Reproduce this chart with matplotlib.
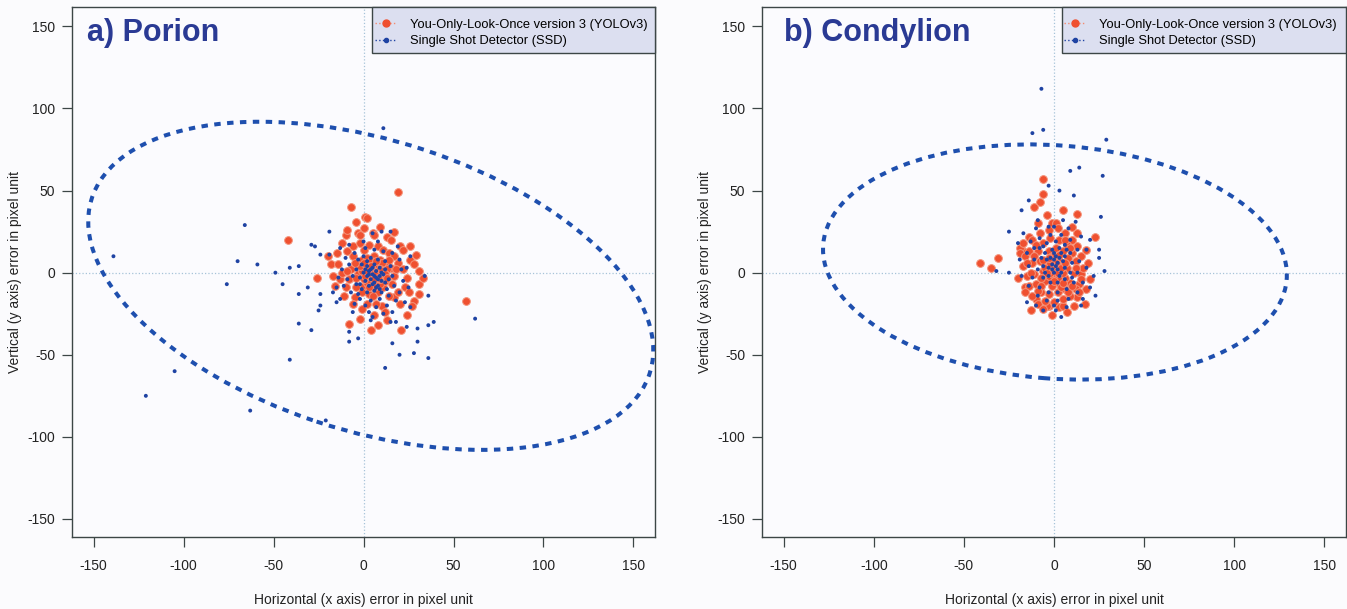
import matplotlib
matplotlib.use('Agg')
import matplotlib.pyplot as plt
from matplotlib.patches import Ellipse, Rectangle
from matplotlib.lines import Line2D

plt.rcParams['font.family'] = ['Liberation Sans', 'DejaVu Sans']

# ---------------- data (pixel errors) ----------------
panel_titles = ["a) Porion", "b) Condylion"]
series_labels = ["You-Only-Look-Once version 3 (YOLOv3)", "Single Shot Detector (SSD)"]
tick_values = [-150, -100, -50, 0, 50, 100, 150]
x_label = "Horizontal (x axis) error in pixel unit"
y_label = "Vertical (y axis) error in pixel unit"

porion_yolo = [
    (19, 49), (-7, 40), (-4, 31), (1, 34), (2, 33), (-42, 20), (57, -17), (-8, -31), (4, -35), (21, -35), (-26, -3),
    (-10, 23), (-12, 18), (-3, 24), (-2, 23), (5, 24), (6, 23), (13, 22), (15, 20), (20, 16), (22, 14), (26, 8),
    (28, 5), (31, 1), (31, -7), (31, -13), (28, -17), (20, -19), (17, -15), (10, -20), (7, -19), (2, -19), (-5, -15),
    (-10, -9), (-13, -4), (-17, -2), (-18, 5), (-14, 5), (-9, 13), (-6, 10), (-1, 8),
    (-15, 12), (-12, 0), (-8, -4), (-6, 16), (-2, 18), (0, 14), (3, 17), (8, 16), (11, 14), (14, 12), (17, 10),
    (19, 6), (22, 2), (24, -3), (23, -9), (25, -12), (19, -12), (14, -14), (12, -24), (6, -26), (-1, -22), (-4, -9),
    (-7, 2), (-3, -1), (0, 3), (2, 9), (6, 10), (9, 8), (12, 6), (15, 3), (17, -2), (16, -7), (11, -9), (8, -12),
    (3, -13), (0, -8),
    (2, 2), (3, -1), (4, 1), (5, 3), (6, 0), (7, -2), (8, 2), (9, 0), (10, -3), (5, -4), (4, -6), (3, 4), (6, 5),
    (8, 5), (10, 3), (11, 0), (12, -5), (7, -6), (2, -3), (1, 0), (6, -9), (9, -7), (4, 7), (1, 5), (-1, 1), (13, 2),
    (6, 2), (8, -1), (5, -1), (3, -3), (7, 3), (9, -4), (11, -2), (4, -2), (2, -6), (10, 6),
    (0, -4), (1, -2), (3, 0), (5, 1), (7, 0), (8, -3), (9, 2), (6, -4), (4, 4), (2, 1), (10, 1), (12, -1), (-2, 4),
    (0, 6), (-4, -3), (7, 7), (13, -3), (3, -9), (-1, -12), (5, -14), (14, 8), (-5, 6), (18, 2), (-9, 1),
    (-16, -8), (-11, -14), (-6, -19), (27, -20), (24, -26), (13, -29), (-9, 26), (0, 27), (9, 28), (17, 25),
    (-20, 10), (29, 11), (33, -3), (-2, -28), (8, -32), (26, 16),
]

porion_ssd = [
    (-139, 10), (-70, 7), (-59, 5), (-49, 0), (-41, 3), (-36, 4), (-76, -7), (-45, -7), (-36, -13), (-24, -13),
    (-25, -23), (-36, -31), (-29, -35), (-41, -53), (-105, -60), (-121, -75), (-63, -84), (-21, -90), (-8, -42),
    (-8, -36), (-3, -40), (12, -58), (20, -50), (28, -49), (30, -42), (36, -52), (36, -32), (39, -30), (62, -28),
    (16, -43), (24, -33), (15, -30), (18, -30), (5, -27), (30, -34), (-24, -20), (11, 88), (-66, 29), (-19, 25),
    (-29, 17), (-27, 16), (10, 25), (15, 25), (5, 24), (-31, -9), (-24, 11), (-19, 11), (-13, -16), (-17, -12),
    (-15, -9), (34, -2), (36, -14), (26, -21),
    (0, 0), (2, -2), (4, -4), (5, -1), (6, -6), (7, -3), (8, -8), (9, -2), (10, -5), (3, -8), (1, -5), (-2, -3),
    (-4, 2), (-1, 5), (2, 4), (4, 2), (7, 1), (9, 3), (11, -1), (12, -6), (13, -10), (10, -12), (6, -11), (2, -12),
    (-1, -10), (-4, -7), (-6, -2), (-3, 8), (0, 10), (4, 9), (8, 8), (12, 7), (15, 4), (16, -2), (17, -8), (14, -14),
    (9, -16), (4, -17), (-2, -16), (-7, -12), (-9, -4), (-8, 5), (-5, 12), (1, 15), (6, 14), (11, 13), (16, 12),
    (20, 8), (21, 2), (22, -5), (20, -12), (18, -17), (13, -20), (7, -21), (1, -20), (-5, -19), (-11, -8), (-12, 2),
    (3, 1), (5, 3), (6, -2), (8, -4), (3, -1), (5, -7), (7, -9), (1, 2), (-2, -7), (10, 0), (12, 2), (14, -4), (2, 7),
    (6, 5), (9, -10), (-3, -13), (-10, 9), (-14, -3), (24, 3), (25, -9), (19, 16), (8, 19), (0, 19), (-8, 17),
    (11, -25), (3, -24), (-6, -24), (26, 10), (-15, -18), (16, -24), (23, -18), (-13, 15), (4, -29),
]

condylion_yolo = [
    (-6, 57), (-6, 48), (-8, 43), (-11, 40), (5, 38), (13, 36), (-41, 6), (-35, 3), (-31, 9), (-13, -23), (-3, -20),
    (3, -21), (17, -19), (13, -15), (23, 22), (-10, -16), (-16, -9), (-18, 14), (-14, 22), (-1, 30), (1, 30),
    (13, 24), (14, -7), (15, -1), (-19, 15), (-19, 12), (-4, -20), (5, -20),
    (-17, 18), (-16, 10), (-17, 4), (-15, -2), (-14, -8), (-12, -14), (-9, -19), (-5, -17), (0, -18), (5, -16),
    (9, -14), (12, -10), (15, -4), (16, 3), (15, 10), (13, 16), (10, 20), (6, 24), (2, 27), (-3, 26), (-8, 24),
    (-12, 20), (-14, 13), (-12, 6), (-11, -1), (-10, -7), (-7, -12), (-3, -13), (2, -12), (6, -10), (9, -6),
    (11, 0), (12, 7), (10, 12), (7, 17), (3, 20), (-2, 21), (-6, 18), (-9, 13), (-8, 7), (-6, 1), (-5, -5),
    (-1, -8), (3, -6), (6, -3), (7, 3), (8, 9), (5, 13), (1, 15), (-3, 13), (-4, 7), (-2, 3), (0, -2), (3, 1),
    (4, 6), (2, 9), (-1, 10), (-1, 5), (1, 2), (2, -3), (-3, -2), (5, 0), (-2, 0), (0, 7), (3, 4), (-5, 3),
    (4, -9), (-7, -8), (8, -12), (-11, 10), (9, 15), (18, -10), (19, 6), (-16, -12), (-1, -26), (7, -24),
    (11, -20), (-9, 30), (10, 28), (-4, 35), (18, 14), (-20, -3), (20, -4), (-6, -22),
    (-1, 4), (1, 6), (2, 0), (-2, 6), (4, 3), (-4, 0), (0, 10), (3, 11), (-3, 9), (6, 6), (-6, 8), (-7, -3),
    (5, -6), (0, -5), (-9, -11), (10, -8), (12, 3), (-13, 0), (-10, 17), (6, 20), (-15, 6), (14, -12),
]

condylion_ssd = [
    (-7, 112), (-6, 87), (-12, 85), (29, 81), (14, 64), (9, 62), (27, 59), (-3, 53), (3, 50), (11, 47), (-14, 44),
    (-18, 38), (26, 34), (-25, 25), (-25, 0), (-32, 1), (28, 1), (25, 9), (25, 14), (20, -9), (23, -14), (4, -27),
    (-6, -23), (-15, -18), (7, -21), (1, -23),
    (0, 8), (1, 10), (2, 6), (3, 9), (-1, 5), (-2, 9), (0, 12), (1, 4), (2, 2), (-3, 3), (-4, 8), (4, 12), (5, 7),
    (-1, 14), (-5, 12), (3, 15), (6, 10), (6, 3), (4, 0), (0, 0), (-3, -2), (-6, 4), (-7, 9), (-8, 15), (-4, 18),
    (1, 19), (6, 17), (9, 12), (10, 6), (9, 0), (6, -4), (2, -6), (-2, -6), (-6, -3), (-9, 2), (-11, 8), (-11, 15),
    (-8, 21), (-2, 23), (4, 23), (9, 20), (13, 14), (14, 7), (13, 0), (11, -6), (7, -10), (2, -12), (-3, -12),
    (-8, -9), (-12, -3), (-14, 4), (-15, 12), (-13, 19), (-17, 24), (-10, 27), (0, 28), (8, 27), (15, 22),
    (18, 14), (18, 3), (16, -6), (13, -12), (8, -16), (2, -17), (-4, -17), (-9, -14), (-14, -8), (-18, -2),
    (-19, 8), (-1, 2), (3, -2), (-5, 0), (7, 14), (-6, 16), (10, -3), (-3, 28), (5, 32), (-9, 32), (12, 31),
    (20, 20), (-20, 18), (22, -2), (16, -16), (-10, -20), (0, -20), (15, -20),
]

# SSD error ellipses: centre (x, y), semi-axes and rotation (degrees)
porion_ellipse_center = (4, -8)
porion_ellipse_axes = (164, 88)
porion_ellipse_angle = -20
condylion_ellipse_center = (0.5, 6.5)
condylion_ellipse_axes = (129, 71)
condylion_ellipse_angle = -5

# ---------------- styling ----------------
RED = '#ef5030'
RED_EDGE = '#f4937a'
BLUE = '#1f43a3'
ELL_BLUE = '#1e4fae'
TITLE_BLUE = '#2a3a94'
FRAME = '#3c4646'
REF = '#a6c3d8'

fig = plt.figure(figsize=(13.47, 6.09), dpi=100, facecolor='#fbfbfd')

panels = [
    dict(rect=[0.0535, 0.1182, 0.4328, 0.8708], title=panel_titles[0], title_x=0.025, leg_x=0.5146,
         yolo=porion_yolo, ssd=porion_ssd, ec=porion_ellipse_center, ea=porion_ellipse_axes,
         eang=porion_ellipse_angle),
    dict(rect=[0.5657, 0.1182, 0.4336, 0.8708], title=panel_titles[1], title_x=0.037, leg_x=0.5128,
         yolo=condylion_yolo, ssd=condylion_ssd, ec=condylion_ellipse_center, ea=condylion_ellipse_axes,
         eang=condylion_ellipse_angle),
]

for p in panels:
    ax = fig.add_axes(p['rect'])
    ax.set_facecolor('#fbfbfe')
    ax.set_xlim(-162, 162)
    ax.set_ylim(-161, 162)

    ax.axhline(0, color=REF, lw=0.9, ls=':', zorder=1)
    ax.axvline(0, color=REF, lw=0.9, ls=':', zorder=1)

    yx = [pt[0] for pt in p['yolo']]
    yy = [pt[1] for pt in p['yolo']]
    sx = [pt[0] for pt in p['ssd']]
    sy = [pt[1] for pt in p['ssd']]
    ax.scatter(yx, yy, s=31, c=RED, edgecolors=RED_EDGE, linewidths=0.7, zorder=3)
    ax.scatter(sx, sy, s=8, c=BLUE, edgecolors='none', zorder=4)

    ell = Ellipse(p['ec'], width=2 * p['ea'][0], height=2 * p['ea'][1], angle=p['eang'],
                  fill=False, edgecolor=ELL_BLUE, lw=2.9, linestyle=(0, (1.6, 1.6)), zorder=5)
    ax.add_patch(ell)

    ax.set_xticks(tick_values)
    ax.set_yticks(tick_values)
    ax.set_xticklabels([str(v) for v in tick_values])
    ax.set_yticklabels([str(v) for v in tick_values])
    ax.tick_params(axis='x', direction='out', length=7, width=0.9, color=FRAME, labelsize=10,
                   pad=8.5, labelcolor='#222222')
    ax.tick_params(axis='y', direction='out', length=7, width=0.9, color=FRAME, labelsize=10,
                   pad=5.0, labelcolor='#222222')
    for sp in ax.spines.values():
        sp.set_color(FRAME)
        sp.set_linewidth(1.0)

    ax.set_xlabel(x_label, fontsize=10, color='#222222')
    ax.set_ylabel(y_label, fontsize=10, color='#222222')
    ax.xaxis.set_label_coords(0.5, -0.106)
    ax.yaxis.set_label_coords(-0.086, 0.5)

    ax.text(p['title_x'], 0.935, p['title'], transform=ax.transAxes, fontsize=22,
            fontweight='bold', color=TITLE_BLUE, ha='left', va='baseline', zorder=6)

    # legend box (frame drawn separately to match the original padding)
    box_bottom = 0.9127
    ax.add_patch(Rectangle((p['leg_x'], box_bottom), 1 - p['leg_x'], 1 - box_bottom,
                           transform=ax.transAxes, facecolor='#dcdff0', edgecolor=FRAME,
                           lw=1.0, zorder=7, clip_on=False))
    handles = [
        Line2D([0], [0], color='#f38a70', ls=':', lw=1.0, marker='o', ms=5, markeredgecolor=RED,
               markerfacecolor=RED),
        Line2D([0], [0], color=BLUE, ls=':', lw=1.0, marker='o', ms=3, markeredgecolor=BLUE),
    ]
    leg = ax.legend(handles, series_labels, loc='upper left', bbox_to_anchor=(p['leg_x'], 0.982),
                    borderaxespad=0, fontsize=9.3, frameon=False,
                    handlelength=1.7, handletextpad=1.0, borderpad=0.2, labelspacing=0.33)
    leg.set_zorder(8)

fig.savefig('out.png', dpi=100, facecolor=fig.get_facecolor())
